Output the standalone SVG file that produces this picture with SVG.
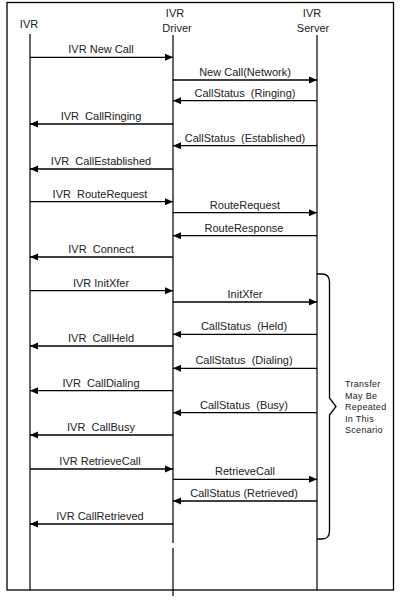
<svg xmlns="http://www.w3.org/2000/svg" width="402" height="600" viewBox="0 0 402 600">
<style>
.lbl{font-family:"Liberation Sans",Arial,sans-serif;font-size:11px;fill:#222;text-anchor:middle;white-space:pre}
.hdr{font-family:"Liberation Sans",Arial,sans-serif;font-size:11px;fill:#222;text-anchor:middle}
.note{font-family:"Liberation Sans",Arial,sans-serif;font-size:9px;fill:#222;letter-spacing:0.3px}
.life{stroke:#000;stroke-width:1.2;fill:none}
.msg{stroke:#000;stroke-width:1.3;fill:none;marker-end:url(#ah)}
</style>
<defs>
<marker id="ah" viewBox="0 0 9 8" refX="9" refY="4" markerWidth="8.5" markerHeight="7.5" markerUnits="userSpaceOnUse" orient="auto">
<path d="M0,0 L9,4 L0,8 Z" fill="#000"/>
</marker>
</defs>
<rect x="7" y="2.5" width="386.5" height="587.5" fill="#fff" stroke="#000" stroke-width="1.3"/>
<g id="ivr">
<text class="hdr" x="29" y="28">IVR</text>
<line class="life" x1="30" y1="34" x2="30" y2="590"/>
</g>
<g id="ivr-driver">
<text class="hdr" x="175" y="17">IVR</text>
<text class="hdr" x="177" y="31.5">Driver</text>
<line class="life" x1="173" y1="35" x2="173" y2="543"/>
<line class="life" x1="173" y1="548" x2="173" y2="596"/>
</g>
<g id="ivr-server">
<text class="hdr" x="312" y="17">IVR</text>
<text class="hdr" x="313" y="31.5">Server</text>
<line class="life" x1="317" y1="35" x2="317" y2="590"/>
</g>
<g id="connectors">
<line class="msg" x1="30" y1="57.3" x2="173" y2="57.3"/>
<line class="msg" x1="173" y1="80" x2="317" y2="80"/>
<line class="msg" x1="317" y1="100.7" x2="173" y2="100.7"/>
<line class="msg" x1="173" y1="124" x2="30" y2="124"/>
<line class="msg" x1="317" y1="145.7" x2="173" y2="145.7"/>
<line class="msg" x1="173" y1="169" x2="30" y2="169"/>
<line class="msg" x1="30" y1="201.7" x2="173" y2="201.7"/>
<line class="msg" x1="173" y1="212.7" x2="317" y2="212.7"/>
<line class="msg" x1="317" y1="235.7" x2="173" y2="235.7"/>
<line class="msg" x1="173" y1="257" x2="30" y2="257"/>
<line class="msg" x1="30" y1="290.7" x2="173" y2="290.7"/>
<line class="msg" x1="173" y1="302" x2="317" y2="302"/>
<line class="msg" x1="317" y1="334.3" x2="173" y2="334.3"/>
<line class="msg" x1="173" y1="346" x2="30" y2="346"/>
<line class="msg" x1="317" y1="368.3" x2="173" y2="368.3"/>
<line class="msg" x1="173" y1="390.7" x2="30" y2="390.7"/>
<line class="msg" x1="317" y1="412.7" x2="173" y2="412.7"/>
<line class="msg" x1="173" y1="435" x2="30" y2="435"/>
<line class="msg" x1="30" y1="469" x2="173" y2="469"/>
<line class="msg" x1="173" y1="479.3" x2="317" y2="479.3"/>
<line class="msg" x1="317" y1="501" x2="173" y2="501"/>
<line class="msg" x1="173" y1="524" x2="30" y2="524"/>
</g>
<g id="labels">
<text class="lbl" x="101" y="53.3">IVR New Call</text>
<text class="lbl" x="245" y="76">New Call(Network)</text>
<text class="lbl" x="245" y="96.7">CallStatus  (Ringing)</text>
<text class="lbl" x="101" y="120">IVR  CallRinging</text>
<text class="lbl" x="245" y="141.7">CallStatus  (Established)</text>
<text class="lbl" x="101" y="165">IVR  CallEstablished</text>
<text class="lbl" x="100" y="197.7">IVR  RouteRequest</text>
<text class="lbl" x="245" y="208.7">RouteRequest</text>
<text class="lbl" x="244" y="231.7">RouteResponse</text>
<text class="lbl" x="101" y="253">IVR  Connect</text>
<text class="lbl" x="101" y="286.7">IVR InitXfer</text>
<text class="lbl" x="245" y="298">InitXfer</text>
<text class="lbl" x="244" y="330.3">CallStatus  (Held)</text>
<text class="lbl" x="101" y="342">IVR  CallHeld</text>
<text class="lbl" x="244" y="364.3">CallStatus  (Dialing)</text>
<text class="lbl" x="101" y="386.7">IVR  CallDialing</text>
<text class="lbl" x="244" y="408.7">CallStatus  (Busy)</text>
<text class="lbl" x="101" y="431">IVR  CallBusy</text>
<text class="lbl" x="100" y="465">IVR RetrieveCall</text>
<text class="lbl" x="245" y="475.3">RetrieveCall</text>
<text class="lbl" x="244" y="497">CallStatus (Retrieved)</text>
<text class="lbl" x="100" y="520">IVR CallRetrieved</text>
</g>
<g id="brace">
<path d="M317,274 L322,274 Q329.5,274 329.5,282 L329.5,398 L336,406.5 L329.5,415 L329.5,531 Q329.5,539 322,539 L317,539" fill="none" stroke="#000" stroke-width="1.3"/>
<text class="note" x="345" y="387">Transfer</text>
<text class="note" x="345" y="398.5">May Be</text>
<text class="note" x="345" y="410">Repeated</text>
<text class="note" x="345" y="421.5">In This</text>
<text class="note" x="345" y="433">Scenario</text>
</g>
</svg>
